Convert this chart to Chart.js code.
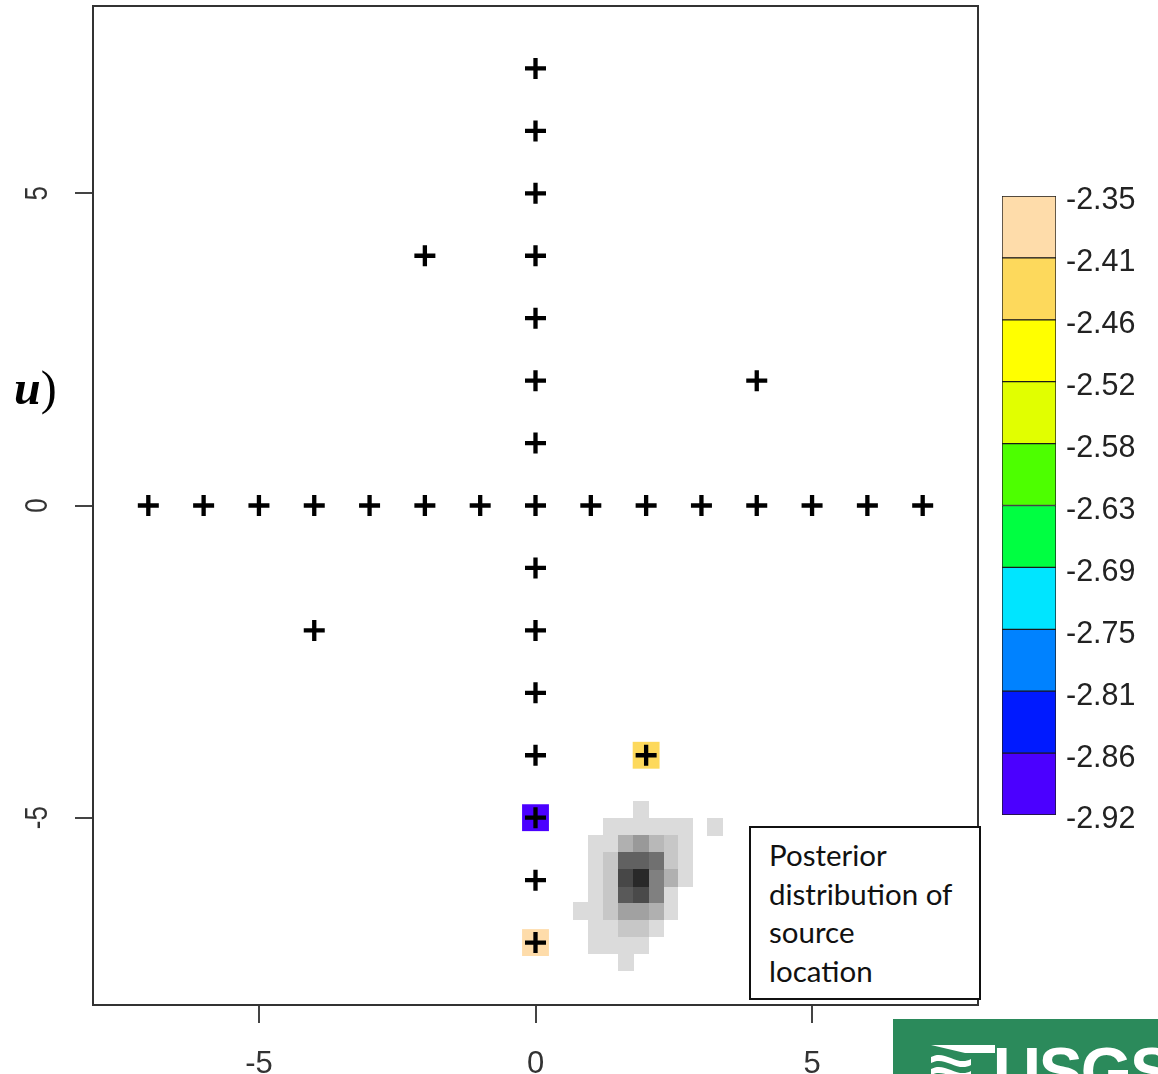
<!DOCTYPE html>
<html>
<head>
<meta charset="utf-8">
<title>Posterior source location</title>
<script src="https://cdn.jsdelivr.net/npm/chart.js@4.4.1/dist/chart.umd.min.js"></script>
<style>
  html, body { margin: 0; padding: 0; background: #fff; }
  #wrap { position: relative; width: 1158px; height: 1074px; overflow: hidden; }
  #main  { position: absolute; left: 0; top: 0; }
  #scale { position: absolute; left: 990px; top: 160px; }
  .panel-tag { position: absolute; left: 14px; top: 360px; font-family: "Liberation Serif", "DejaVu Serif", serif; font-size: 48px; color: #000; }
  .panel-tag b { font-style: italic; }
  .note {
    position: absolute; left: 749px; top: 826px; width: 210px; height: 162px;
    padding: 8px 0 0 18px; border: 2px solid #111; background: #fff;
    font-family: Lato, "Open Sans", sans-serif; font-size: 29.5px; line-height: 38.6px; color: #111;
  }
  .logo { position: absolute; left: 893px; top: 1019px; width: 270px; height: 60px; background: #2b8a5b; overflow: hidden; }
  .logo span { position: absolute; left: 100px; top: 14px; font-family: "Liberation Sans", Arial, sans-serif; font-weight: bold; font-size: 66px; color: #fff; letter-spacing: -2px; }
  .logo svg { position: absolute; left: 38px; top: 22px; }
</style>
</head>
<body>
<div id="wrap">
  <canvas id="main" width="1158" height="1074"></canvas>
  <canvas id="scale" width="168" height="700"></canvas>
  <div class="panel-tag"><b>u</b>)</div>
  <div class="note">Posterior<br>distribution of<br>source<br>location</div>
  <div class="logo">
    <svg width="64" height="40" viewBox="0 0 64 40">
      <path d="M0 4 L64 4 L64 12 L34 12 Z" fill="#fff"/>
      <path d="M0 16 C14 8 26 26 40 18 L40 24 C26 32 14 14 0 22 Z" fill="#fff"/>
      <path d="M0 28 C14 20 26 38 40 30 L40 36 C26 44 14 26 0 34 Z" fill="#fff"/>
    </svg>
    <span>USGS</span>
  </div>
</div>

<script>
/* ── axis ticks ─────────────────────────────────── */
const xTicks = [-5, 0, 5];
const yTicks = [-5, 0, 5];

/* ── sensor locations (drawn as "+") ────────────── */
const sensorX = [0, 0, 0, 0, 0, 0, 0,
                 -7, -6, -5, -4, -3, -2, -1, 0, 1, 2, 3, 4, 5, 6, 7,
                 0, 0, 0, 0, 0, 0, 0,
                 -2, 4, -4, 2];
const sensorY = [7, 6, 5, 4, 3, 2, 1,
                 0, 0, 0, 0, 0, 0, 0, 0, 0, 0, 0, 0, 0, 0, 0,
                 -1, -2, -3, -4, -5, -6, -7,
                 4, 2, -2, -4];

/* ── sensors with a measured value (coloured squares) */
const obsX   = [2, 0, 0];
const obsY   = [-4, -5, -7];
const obsVal = [-2.43, -2.89, -2.38];

/* ── colour scale, top to bottom ────────────────── */
const breaks    = [-2.35, -2.41, -2.46, -2.52, -2.58, -2.63, -2.69, -2.75, -2.81, -2.86, -2.92];
const binColors = ['#fedcaa', '#fdd95c', '#ffff00', '#e1ff00', '#4dff00',
                   '#00ff41', '#00e5ff', '#0082ff', '#001aff', '#4b00ff'];

/* ── posterior density grid (rows top to bottom) ── */
const gridX = [0.82, 1.09, 1.36, 1.63, 1.90, 2.17, 2.44, 2.71, 2.98, 3.25];
const gridY = [-4.88, -5.15, -5.42, -5.69, -5.96, -6.23, -6.50, -6.77, -7.04, -7.31];
const density = [
  [0,    0,    0,    0,    0.14, 0,    0,    0,    0, 0   ],
  [0,    0,    0.14, 0.14, 0.14, 0.14, 0.14, 0.14, 0, 0.14],
  [0,    0.14, 0.14, 0.31, 0.40, 0.28, 0.22, 0.14, 0, 0   ],
  [0,    0.14, 0.22, 0.62, 0.62, 0.56, 0.22, 0.14, 0, 0   ],
  [0,    0.14, 0.22, 0.72, 0.84, 0.50, 0.31, 0.14, 0, 0   ],
  [0,    0.14, 0.22, 0.65, 0.71, 0.50, 0.14, 0,    0, 0   ],
  [0.14, 0.14, 0.22, 0.37, 0.37, 0.31, 0.14, 0,    0, 0   ],
  [0,    0.14, 0.14, 0.22, 0.22, 0.14, 0,    0,    0, 0   ],
  [0,    0.14, 0.14, 0.14, 0.14, 0,    0,    0,    0, 0   ],
  [0,    0,    0,    0.14, 0,    0,    0,    0,    0, 0   ]
];

const FONT = '"Liberation Sans", Arial, sans-serif';

function binColor(v) {
  for (let i = 0; i < binColors.length; i++) {
    if (v <= breaks[i] && v >= breaks[i + 1]) return binColors[i];
  }
  return binColors[binColors.length - 1];
}

// density cells -> points; lightest first so darker ones sit on top
const cells = [];
density.forEach((row, i) => row.forEach((d, j) => {
  if (d > 0) cells.push({ x: gridX[j], y: gridY[i], d });
}));
cells.sort((a, b) => a.d - b.d);

/* each grid cell is a small canvas sized from the scales */
const cellCache = {};
function cellImage(chart, d) {
  const xs = chart.scales.x, ys = chart.scales.y;
  const w = Math.ceil(Math.abs(xs.getPixelForValue(gridX[1]) - xs.getPixelForValue(gridX[0]))) + 1;
  const h = Math.ceil(Math.abs(ys.getPixelForValue(gridY[0]) - ys.getPixelForValue(gridY[1]))) + 1;
  const key = d + '_' + w + '_' + h;
  if (!cellCache[key]) {
    const c = document.createElement('canvas');
    c.width = w; c.height = h;
    const g = Math.round(255 * (1 - d));
    const cx = c.getContext('2d');
    cx.fillStyle = `rgb(${g},${g},${g})`;
    cx.fillRect(0, 0, w, h);
    cellCache[key] = c;
  }
  return cellCache[key];
}

/* frame round the plot + rotated y labels (R style) */
const framePlugin = {
  id: 'frame',
  afterDraw(chart) {
    const { ctx, chartArea: a } = chart;
    ctx.save();
    ctx.strokeStyle = '#333';
    ctx.lineWidth = 2;
    ctx.strokeRect(a.left, a.top, a.right - a.left, a.bottom - a.top);

    const ys = chart.scales.y;
    ctx.fillStyle = '#333';
    ctx.font = '26px ' + FONT;
    ctx.textAlign = 'center';
    ctx.textBaseline = 'middle';
    yTicks.forEach(v => {
      ctx.save();
      ctx.translate(38, ys.getPixelForValue(v));
      ctx.rotate(-Math.PI / 2);
      ctx.scale(1, 1.2);
      ctx.fillText(String(v), 0, 0);
      ctx.restore();
    });
    ctx.restore();
  }
};

new Chart(document.getElementById('main'), {
  type: 'scatter',
  data: {
    datasets: [
      {
        data: sensorX.map((x, i) => ({ x, y: sensorY[i] })),
        pointStyle: 'cross',
        pointRadius: 10.5,
        pointBorderWidth: 4.3,
        pointBorderColor: '#000',
        order: 0
      },
      {
        data: obsX.map((x, i) => ({ x, y: obsY[i], v: obsVal[i] })),
        pointStyle: 'rect',
        pointRadius: 19,
        pointBorderWidth: 0,
        pointBackgroundColor: obsVal.map(binColor),
        pointBorderColor: 'rgba(0,0,0,0)',
        order: 1
      },
      {
        data: cells,
        pointRadius: 8,
        pointBorderWidth: 0,
        pointStyle: ctx => (ctx.raw ? cellImage(ctx.chart, ctx.raw.d) : 'rect'),
        order: 2
      }
    ]
  },
  options: {
    responsive: false,
    animation: false,
    events: [],
    layout: { autoPadding: false, padding: { top: 6, right: 180, left: 0, bottom: 0 } },
    plugins: { legend: { display: false }, tooltip: { enabled: false } },
    scales: {
      x: {
        type: 'linear', min: -8, max: 8,
        afterBuildTicks: s => { s.ticks = xTicks.map(v => ({ value: v })); },
        afterFit: s => { s.height = 69; s.paddingLeft = 0; s.paddingRight = 0; },
        grid: { drawOnChartArea: false, drawTicks: true, tickLength: 18, color: '#444', lineWidth: 2 },
        border: { color: '#333', width: 2 },
        ticks: { font: { family: FONT, size: 31 }, color: '#333', padding: 23, maxRotation: 0 }
      },
      y: {
        type: 'linear', min: -8, max: 8,
        afterBuildTicks: s => { s.ticks = yTicks.map(v => ({ value: v })); },
        afterFit: s => { s.width = 93; s.paddingTop = 0; s.paddingBottom = 0; },
        grid: { drawOnChartArea: false, drawTicks: true, tickLength: 18, color: '#444', lineWidth: 2 },
        border: { color: '#333', width: 2 },
        ticks: { display: false }
      }
    }
  },
  plugins: [framePlugin]
});

/* ── colour key ────────────────────────────────── */
new Chart(document.getElementById('scale'), {
  type: 'bar',
  data: {
    labels: [''],
    datasets: binColors.slice().reverse().map(c => ({
      data: [1],
      backgroundColor: c,
      borderColor: '#1a1a1a',
      borderWidth: 1,
      borderSkipped: false,
      barPercentage: 1,
      categoryPercentage: 1
    }))
  },
  options: {
    responsive: false,
    animation: false,
    events: [],
    layout: { padding: { left: 12, top: 36, bottom: 45, right: 0 } },
    plugins: { legend: { display: false }, tooltip: { enabled: false } },
    scales: {
      x: { display: false, stacked: true },
      y: {
        stacked: true, position: 'right', min: 0, max: 10,
        afterFit: s => { s.width = 102; },
        ticks: {
          stepSize: 1,
          padding: 10,
          labelOffset: 5,
          font: { family: FONT, size: 30.5 },
          color: '#222',
          callback: v => breaks[10 - v].toFixed(2)
        },
        grid: { display: false, drawTicks: false },
        border: { display: false }
      }
    }
  }
});
</script>
</body>
</html>
